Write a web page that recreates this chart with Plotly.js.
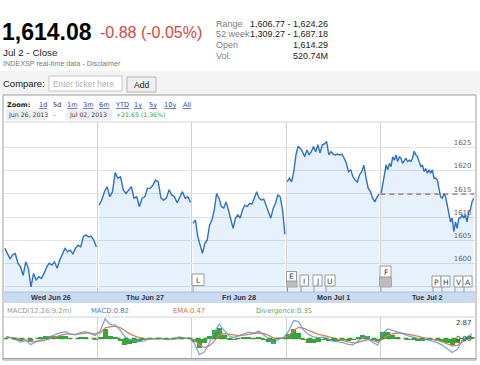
<!DOCTYPE html>
<html><head><meta charset="utf-8">
<script src="https://cdn.plot.ly/plotly-3.0.1.min.js"></script>
<style>html,body{margin:0;padding:0;background:#fff;}#chart{width:480px;height:365px;}</style>
</head><body><div id="chart"></div>
<script>
// ---------------- DATA ----------------
const dayLabels = ['Wed Jun 26', 'Thu Jun 27', 'Fri Jun 28', 'Mon Jul 1', 'Tue Jul 2'];
const jun26 = [1603.3,1602.3,1601.1,1601.9,1602.2,1600.1,1599.3,1597.5,1600.4,1599.0,1595.0,1597.9,1596.5,1597.2,1596.8,1597.9,1599.3,1600.1,1599.7,1600.4,1599.0,1600.8,1602.2,1603.3,1602.6,1602.9,1602.1,1603.3,1604.0,1603.6,1605.8,1606.2,1605.8,1605.9,1605.1,1603.6];
const jun27 = [1612.6,1613.7,1615.5,1616.6,1614.4,1615.5,1619.6,1618.4,1618.7,1615.9,1615.1,1615.9,1616.6,1614.1,1614.4,1612.3,1614.1,1614.4,1616.2,1616.2,1616.9,1618.0,1617.6,1614.1,1613.7,1614.1,1615.9,1614.8,1614.4,1613.1,1614.4,1615.5,1614.1,1614.4,1613.2];
const jun28 = [1608.7,1609.4,1605.8,1604.0,1602.2,1604.4,1605.1,1608.3,1609.4,1611.6,1615.1,1614.1,1612.3,1612.0,1613.3,1611.6,1609.4,1607.6,1609.8,1610.5,1609.8,1611.6,1612.6,1612.3,1613.0,1612.8,1614.1,1615.5,1614.1,1613.7,1613.9,1612.3,1611.2,1609.8,1611.9,1613.0,1614.8,1614.4,1611.6,1606.3];
const jul1 = [1617.6,1618.4,1617.6,1619.8,1623.4,1625.3,1624.8,1624.1,1623.0,1624.5,1623.4,1624.1,1625.2,1624.1,1625.6,1623.8,1625.6,1625.8,1626.3,1623.4,1624.1,1623.6,1623.4,1623.6,1623.4,1623.6,1622.7,1621.6,1619.8,1620.2,1618.7,1618.0,1617.6,1619.1,1619.8,1621.2,1618.4,1616.2,1615.5,1614.1,1613.3,1614.4,1615.0];
const jul2 = [1615.15,1616.9,1619.1,1621.25,1620.2,1621.6,1620.9,1623.0,1622.3,1623.4,1622.0,1623.0,1622.7,1621.6,1622.3,1622.7,1622.0,1622.3,1622.0,1622.7,1624.2,1623.4,1623.0,1622.0,1620.9,1621.25,1619.8,1620.5,1619.5,1620.2,1619.5,1620.2,1618.4,1618.4,1618.0,1616.2,1614.4,1614.1,1615.1,1614.4,1612.3,1610.5,1609.0,1609.8,1606.9,1609.0,1607.6,1609.8,1609.8,1610.5,1609.8,1610.5,1609.0,1611.2,1611.6,1613.3,1614.1];
const prevClose = 1614.96;
const priceTicks = [1595, 1600, 1605, 1610, 1615, 1620, 1625];

const macd = [0.36,0.13,-0.21,-0.63,-0.36,-1.07,-0.59,-0.27,0.14,0.36,
  0.77,1.04,1.18,0.75,0.64,1.04,1.21,0.89,0.54,1.29,
  3.45,2.41,2.39,1.48,0.30,-0.23,-0.29,-0.48,-0.41,0,
  -0.02,0.09,-0.13,-0.18,0.05,0.27,0.11,0.05,-0.84,-2.79,
  -2.36,-0.79,1.11,2.46,1.43,0.43,0.18,0.43,0.80,1.09,
  0.96,1.29,0.59,-0.02,-0.89,-0.11,0.18,1.25,3.14,2.96,
  1.50,0.71,0.30,0.14,0.23,-0.18,-0.5,-0.59,-0.70,-1.02,
  -1.09,-0.46,0.18,0.18,-0.71,-1.16,0.98,1.66,1.39,1.21,
  0.86,0.50,0.25,0.05,-0.21,-0.23,-0.43,-0.73,-1.14,-1.79,
  -2.43,-1.93,-0.46,0.25,0.82];
const ema = [0.30,0.24,0.08,-0.17,-0.24,-0.53,-0.55,-0.45,-0.24,-0.03,
  0.25,0.53,0.76,0.76,0.72,0.83,0.96,0.94,0.80,0.97,
  1.84,2.04,2.16,1.92,1.35,0.80,0.42,0.10,-0.08,-0.05,
  -0.04,0.01,-0.04,-0.09,-0.04,0.07,0.08,0.07,-0.25,-1.14,
  -1.57,-1.30,-0.46,0.56,0.86,0.71,0.52,0.49,0.60,0.77,
  0.84,1.00,0.86,0.55,0.05,-0.01,0.06,0.48,1.41,1.95,
  1.79,1.41,1.02,0.71,0.54,0.29,0.01,-0.20,-0.37,-0.60,
  -0.77,-0.66,-0.37,-0.18,-0.37,-0.65,-0.08,0.53,0.83,0.96,
  0.93,0.78,0.59,0.40,0.19,0.04,-0.12,-0.33,-0.61,-1.02,
  -1.30,-1.20,-0.60,0.00,0.47];
const macdTicks = [2.87, 0, -2.68];
const macdTickText = ['2.87', '0.00', '-2.68'];

const flagLetters = ['L','E','I','J','U','F','P','H','V','A'];

// ---------------- BUILD ----------------
const W = 480, H = 365;
const px = v => v / W, py = v => 1 - v / H;
const ARIAL = 'Liberation Sans, Arial, sans-serif';
const VERD = 'DejaVu Sans, Verdana, sans-serif';

const days = [jun26, jun27, jun28, jul1, jul2];
const data = [];
days.forEach((arr, d) => {
  data.push({
    x: arr.map((_, i) => d + (i + 0.5) / arr.length), y: arr,
    type: 'scatter', mode: 'lines', xaxis: 'x', yaxis: 'y',
    line: {color: '#2f70c8', width: 1.4},
    fill: 'tozeroy', fillcolor: 'rgba(60,140,230,0.12)', hoverinfo: 'skip'
  });
});
const mx = macd.map((_, k) => (k + 0.5) * 5 / macd.length);
const divergence = macd.map((v, k) => v - ema[k]);
data.push({x: mx, y: divergence, type: 'bar', xaxis: 'x2', yaxis: 'y2',
  width: 5 / macd.length, marker: {color: '#3aa23a', line: {width: 0}}, hoverinfo: 'skip'});
data.push({x: mx, y: ema, type: 'scatter', mode: 'lines', xaxis: 'x2', yaxis: 'y2',
  line: {color: '#d9805e', width: 1.3}, hoverinfo: 'skip'});
data.push({x: mx, y: macd, type: 'scatter', mode: 'lines', xaxis: 'x2', yaxis: 'y2',
  line: {color: '#6b97d6', width: 1.3}, opacity: 0.85, hoverinfo: 'skip'});

const ann = [];
function T(text, x, y, size, color, o) {
  ann.push(Object.assign({text: text, x: px(x), y: py(y), xref: 'paper', yref: 'paper',
    xanchor: 'left', yanchor: 'middle', showarrow: false, borderpad: 0,
    font: {family: ARIAL, size: size, color: color}}, o || {}));
}
const shapes = [];
function R(x0, y0, x1, y1, fill, line, o) {
  shapes.push(Object.assign({type: 'rect', xref: 'paper', yref: 'paper',
    x0: px(x0), x1: px(x1), y0: py(y1), y1: py(y0), fillcolor: fill,
    line: {color: line || 'rgba(0,0,0,0)', width: line ? 1 : 0}, layer: 'above'}, o || {}));
}
function Ln(x0, y0, x1, y1, color, o) {
  shapes.push(Object.assign({type: 'line', xref: 'paper', yref: 'paper',
    x0: px(x0), x1: px(x1), y0: py(y0), y1: py(y1), line: {color: color, width: 1}, layer: 'above'}, o || {}));
}

// header
T('<b>1,614.08</b>', 1, 32, 23, '#000');
T('-0.88 (-0.05%)', 99, 32.5, 16, '#d8473c');
T('Jul 2 - Close', 2, 53, 9.8, '#222');
T('INDEXSP real-time data - Disclaimer', 2, 63.5, 7.2, '#777');
const statLabels = ['Range', '52 week', 'Open', 'Vol.'];
const statValues = ['1,606.77 - 1,624.26', '1,309.27 - 1,687.18', '1,614.29', '520.74M'];
const statY = [23.5, 34, 45, 56.3];
statLabels.forEach((s, i) => {
  T(s, 215, statY[i], 9, '#808080');
  T(statValues[i], 328.5, statY[i], 9, '#222', {xanchor: 'right'});
});

// compare bar (drawn below plot)
R(0, 71, 480, 95, '#f3f3f3', null, {layer: 'below'});
R(49, 76, 122, 91, '#ffffff', '#c8c8c8', {layer: 'below'});
R(127, 77, 156, 92, '#efefef', '#b5b5b5', {layer: 'below'});
T('Compare:', 2, 84, 9.5, '#222');
T('Enter ticker here', 51.5, 84, 8.3, '#b0b0b0');
T('Add', 141.5, 84.5, 8.5, '#222', {xanchor: 'center'});

// chart frame
R(3, 95, 476, 360, 'rgba(0,0,0,0)', '#9c9c9c');
Ln(3, 122, 476, 122, '#d6d6d6');

// zoom toolbar
T('<b>Zoom:</b>', 6, 104.5, 6.6, '#222', {font: {family: VERD, size: 6.6, color: '#222'}});
const zoomLinks = ['1d','5d','1m','3m','6m','YTD','1y','5y','10y','All'];
const zoomX = [37.5, 51.5, 65.5, 81.5, 97.5, 113.5, 132.5, 147.5, 162.5, 181.5];
zoomLinks.forEach((z, i) => {
  const cur = z === '5d';
  T(cur ? z : '<span style="text-decoration:underline">' + z + '</span>', zoomX[i], 104.5, 6.6,
    cur ? '#333' : '#2a3fb0', {font: {family: VERD, size: 6.6, color: cur ? '#333' : '#2a3fb0'}});
});
R(6, 109.5, 47, 120.5, '#efefef', null);
R(66, 109.5, 112, 120.5, '#efefef', null);
T('Jun 26, 2013', 7, 115, 6.2, '#444', {font: {family: VERD, size: 6.2, color: '#444'}});
T('-', 52, 115, 6.2, '#444', {font: {family: VERD, size: 6.2, color: '#444'}});
T('Jul 02, 2013', 68, 115, 6.2, '#444', {font: {family: VERD, size: 6.2, color: '#444'}});
T('+21.65 (1.36%)', 115, 115, 6.2, '#3a9a3a', {font: {family: VERD, size: 6.2, color: '#3a9a3a'}});

// date band
R(3.5, 292, 475.5, 303, '#c9dbf1', null);
Ln(3.5, 292, 475.5, 292, '#a9c0de');
dayLabels.forEach((t, d) => {
  ann.push({text: '<b>' + t + '</b>', x: d + 0.5, y: py(297.8), xref: 'x', yref: 'paper',
    xanchor: 'center', yanchor: 'middle', showarrow: false,
    font: {family: ARIAL, size: 7.2, color: '#2c3440'}});
});

// prev close dashed line
shapes.push({type: 'line', xref: 'x', yref: 'y', x0: 4, x1: 5, y0: prevClose, y1: prevClose,
  line: {color: '#8d6e6e', width: 1.2, dash: '5px,4px'}, layer: 'above'});

// flags
const flagBoxes = [[192,274,204,285.5],[286.5,271.5,296.5,281],[300,275,308.5,286],[313,275,322,286],[325,275,335,286],
  [380,266,391,277],[432,276,441,287],[441,276,450,287],[454,276,463,287],[463,276,472,287]];
const flagBlocks = [null,[286.5,281,297,287],null,null,null,[379.5,277,391.5,287],null,null,null,null];
flagLetters.forEach((f, i) => {
  const b = flagBoxes[i];
  Ln(b[0] + 1, b[3], b[0] + 1, 292, '#9a9a9a');
  if (flagBlocks[i]) { const g = flagBlocks[i]; R(g[0], g[1], g[2], g[3], '#bdbdbd', '#a8a8a8'); }
  R(b[0], b[1], b[2], b[3], '#ffffff', '#9a9a9a');
  T(f, (b[0] + b[2]) / 2, (b[1] + b[3]) / 2 + 0.5, 7.5, '#444',
    {xanchor: 'center', font: {family: VERD, size: 7.5, color: '#444'}});
});

// MACD header + frame
T('MACD(12,26,9,2m)', 6, 310.5, 6.8, '#9a9a9a', {font: {family: VERD, size: 6.8, color: '#9a9a9a'}});
T('MACD:0.82', 90, 310.5, 6.8, '#4d7fc0', {font: {family: VERD, size: 6.8, color: '#4d7fc0'}});
T('EMA:0.47', 172, 310.5, 6.8, '#d2784e', {font: {family: VERD, size: 6.8, color: '#d2784e'}});
T('Divergence:0.35', 255, 310.5, 6.8, '#5aa55a', {font: {family: VERD, size: 6.8, color: '#5aa55a'}});
Ln(3, 317, 476, 317, '#d4d4d4');
Ln(3, 358.5, 476, 358.5, '#9c9c9c');
shapes.push({type: 'line', xref: 'x2', yref: 'y2', x0: 0, x1: 5, y0: 0, y1: 0,
  line: {color: '#3d9b3d', width: 1.5, dash: '5px,3px'}, layer: 'above'});

const xDom = [px(3.5), px(474.5)];
const layout = {
  width: W, height: H, margin: {l: 0, r: 0, t: 0, b: 0},
  paper_bgcolor: '#ffffff', plot_bgcolor: 'rgba(0,0,0,0)', showlegend: false, bargap: 0,
  xaxis: {domain: xDom, range: [0, 5], anchor: 'y', tickmode: 'array', tickvals: [1, 2, 3, 4],
    showticklabels: false, showgrid: true, gridcolor: '#d2d2d2', zeroline: false, showline: false, ticks: ''},
  yaxis: {domain: [py(292), py(122)], range: [1593.9, 1630.5], anchor: 'x', side: 'right',
    tickmode: 'array', tickvals: priceTicks, ticklabelposition: 'inside top',
    tickfont: {family: VERD, size: 7, color: '#666'}, showgrid: true, gridcolor: '#e3e3e3',
    zeroline: false, showline: false, ticks: ''},
  xaxis2: {domain: xDom, range: [0, 5], anchor: 'y2', matches: 'x', tickmode: 'array', tickvals: [1, 2, 3, 4],
    showticklabels: false, showgrid: true, gridcolor: '#d2d2d2', zeroline: false, showline: false, ticks: ''},
  yaxis2: {domain: [py(358), py(317)], range: [-3.4, 3.75], anchor: 'x2', side: 'right',
    tickmode: 'array', tickvals: macdTicks, ticktext: macdTickText, ticklabelposition: 'inside',
    tickfont: {family: VERD, size: 7, color: '#333'}, showgrid: false, zeroline: false, showline: false, ticks: ''},
  annotations: ann, shapes: shapes
};
Plotly.newPlot('chart', data, layout, {staticPlot: true, displayModeBar: false});
</script>
</body></html>
